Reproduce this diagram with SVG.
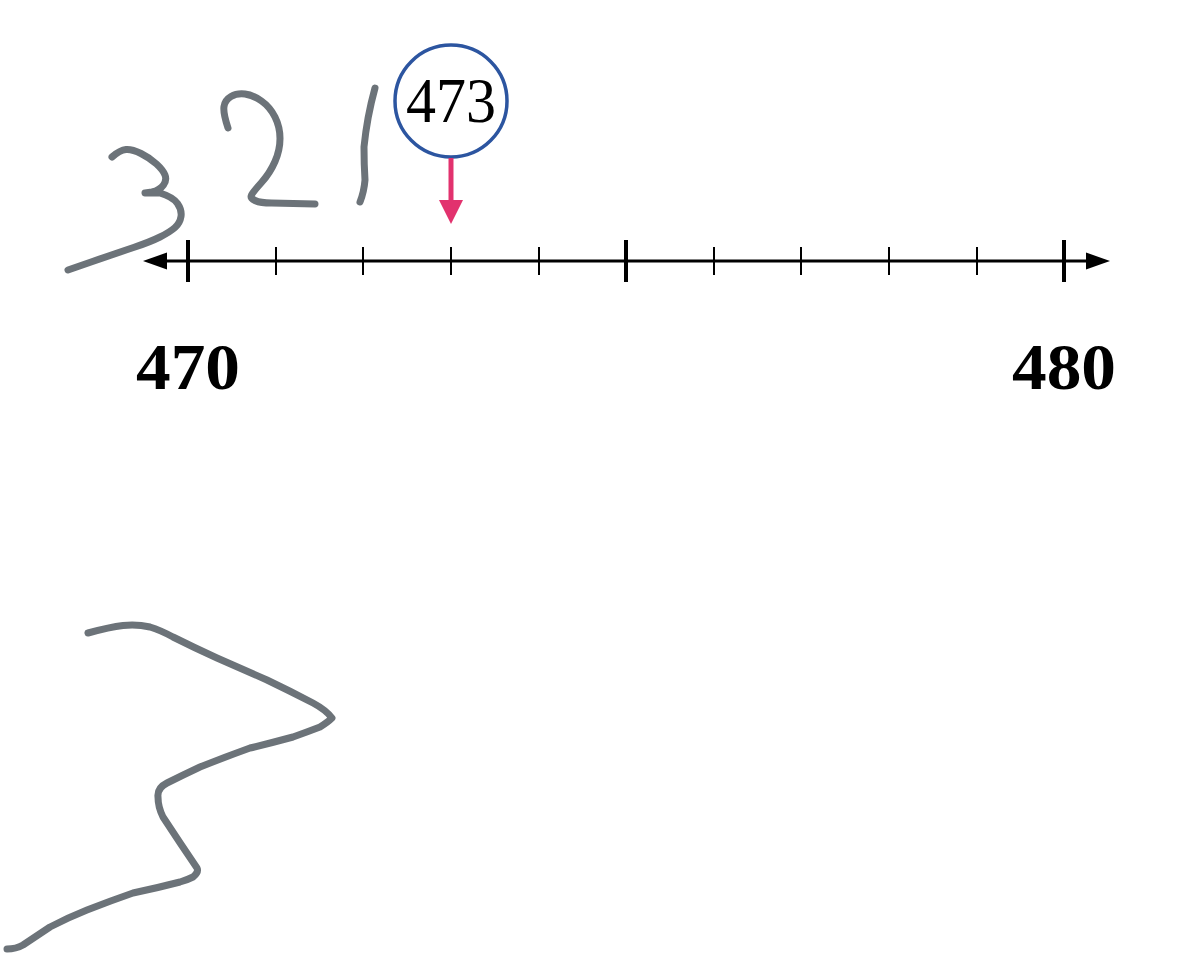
<svg xmlns="http://www.w3.org/2000/svg" width="1200" height="957" viewBox="0 0 1200 957">
<style>
.ink{fill:none;stroke:#6c7379;stroke-width:7;stroke-linecap:round;stroke-linejoin:round}
.axis{stroke:#000;stroke-width:2.8;fill:none}
.minor{stroke:#000;stroke-width:2}
.major{stroke:#000;stroke-width:4}
.lbl{font-family:"Liberation Serif",serif;font-weight:bold;font-size:66px;fill:#000;text-anchor:middle}
</style>
<rect width="1200" height="957" fill="#fff"/>
<g id="numberline">
<line class="axis" x1="167" y1="261" x2="1086" y2="261"/>
<path d="M143,261 L167,252.5 L167,269.5 Z" fill="#000"/>
<path d="M1110,261 L1086,252.5 L1086,269.5 Z" fill="#000"/>
<g id="ticks">
<line class="major" x1="188" y1="240" x2="188" y2="282"/>
<line class="minor" x1="276" y1="247" x2="276" y2="275"/>
<line class="minor" x1="363" y1="247" x2="363" y2="275"/>
<line class="minor" x1="451" y1="247" x2="451" y2="275"/>
<line class="minor" x1="539" y1="247" x2="539" y2="275"/>
<line class="major" x1="626" y1="240" x2="626" y2="282"/>
<line class="minor" x1="714" y1="247" x2="714" y2="275"/>
<line class="minor" x1="801" y1="247" x2="801" y2="275"/>
<line class="minor" x1="889" y1="247" x2="889" y2="275"/>
<line class="minor" x1="977" y1="247" x2="977" y2="275"/>
<line class="major" x1="1064" y1="240" x2="1064" y2="282"/>
</g>
</g>
<g id="label-470"><text class="lbl" x="188" y="389" textLength="104" lengthAdjust="spacingAndGlyphs">470</text></g>
<g id="label-480"><text class="lbl" x="1064" y="389" textLength="104" lengthAdjust="spacingAndGlyphs">480</text></g>
<g id="marker-473">
<circle cx="451" cy="101" r="56" fill="#fff" stroke="#2c55a0" stroke-width="3.5"/>
<text x="451" y="122" font-family="'Liberation Serif',serif" font-size="64" text-anchor="middle" fill="#000" textLength="90" lengthAdjust="spacingAndGlyphs">473</text>
</g>
<g id="connectors">
<line x1="451" y1="158" x2="451" y2="202" stroke="#e2326e" stroke-width="5"/>
<path d="M439,200 L463,200 L451,224 Z" fill="#e2326e"/>
</g>
<g id="handwriting">
<path class="ink" d="M112,157 Q120,150 126,149.5 Q132,149 141,153.5 Q150,158 156.5,164 Q163,170 165,175 Q167,180 163.5,185 Q160,190 152,192 L145,193 L160,193 Q173,197 177.5,203.5 Q182,210 181,216.5 Q180,223 175,227.5 Q170,232 160,237 Q150,242 133.5,247.5 Q117,253 92.5,261.5 L68,270"/>
<path class="ink" d="M228,128 Q223,113 224,106.5 Q225,100 231,96.5 Q237,93 245,94 Q253,95 261.5,101 Q270,107 275,117 Q280,127 280,138.5 Q280,150 275,161.5 Q270,173 261.5,182.5 Q253,192 251.5,195 Q250,198 255,200.5 Q260,203 271.5,203 L315,204"/>
<path class="ink" d="M375,88 Q367,117 364,147 Q364,165 365,180 Q364,192 360,202"/>
<path class="ink" d="M88,633 Q110,627 123,625.5 Q137,624 150,627 Q160,630 173,637 Q195,648 217,658 Q242,669 267,680 Q290,691 313,703 Q326,710 332,718 Q328,722 320,727 Q307,732 293,737 Q271,743 250,748 Q225,757 200,767 Q183,775 167,783 Q157,788 158,797 Q158,807 163,817 Q180,843 197,868 Q199,872 193,877 Q187,880 180,882 Q157,888 133,893 Q110,901 87,910 Q67,918 50,927 Q35,937 23,945 Q16,949 7,949"/>
</g>
</svg>
